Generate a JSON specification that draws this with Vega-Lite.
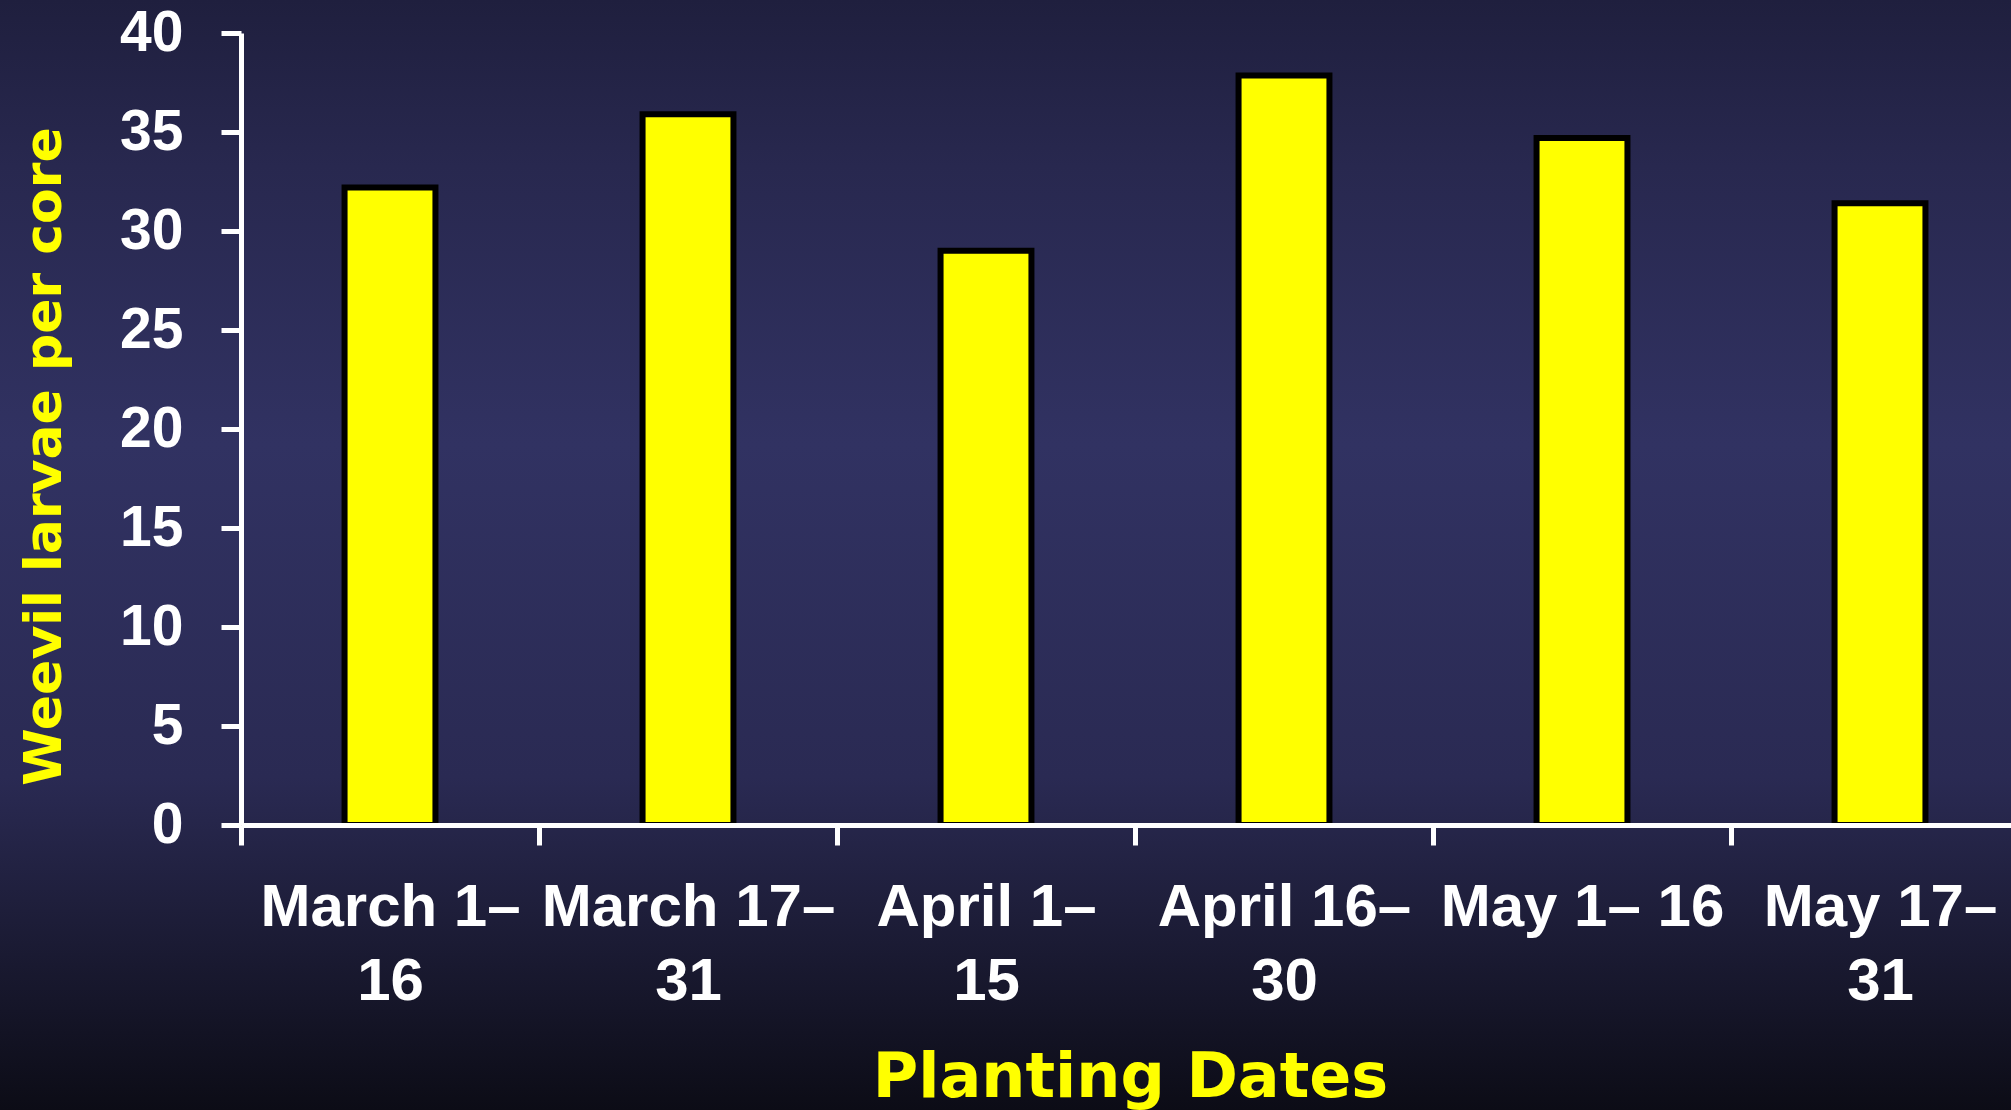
{
  "$schema": "https://vega.github.io/schema/vega-lite/v6.json",
  "width": 2011,
  "height": 1110,
  "padding": 0,
  "autosize": {"type": "none"},
  "background": "#1c1c38",
  "view": {
    "stroke": null,
    "fill": {
      "gradient": "linear",
      "x1": 0, "y1": 0, "x2": 0, "y2": 1,
      "stops": [
        {"offset": 0, "color": "#1f1f3e"},
        {"offset": 0.15, "color": "#28284f"},
        {"offset": 0.4, "color": "#313262"},
        {"offset": 0.7, "color": "#2a2a53"},
        {"offset": 0.85, "color": "#1b1b34"},
        {"offset": 1, "color": "#0c0c16"}
      ]
    }
  },
  "data": {
    "values": [
      {"date": "March 1–|16", "value": 32.2},
      {"date": "March 17–|31", "value": 35.9},
      {"date": "April 1–|15", "value": 29.0},
      {"date": "April 16–|30", "value": 37.85},
      {"date": "May 1– 16", "value": 34.7},
      {"date": "May 17–|31", "value": 31.4}
    ]
  },
  "mark": {"type": "bar", "fill": "#ffff00", "stroke": "#000000", "strokeWidth": 6, "width": {"band": 0.305}},
  "encoding": {
    "x": {
      "field": "date",
      "type": "nominal",
      "sort": null,
      "scale": {"range": [241, 2029], "paddingInner": 0, "paddingOuter": 0},
      "axis": {
        "orient": "bottom",
        "offset": -285,
        "zindex": 1,
        "domain": true,
        "domainColor": "#ffffff",
        "domainWidth": 5,
        "ticks": true,
        "tickBand": "extent",
        "tickSize": 20,
        "tickWidth": 5,
        "tickColor": "#ffffff",
        "grid": false,
        "labelAngle": 0,
        "labelExpr": "split(datum.label, '|')",
        "labelFont": "Liberation Sans",
        "labelFontWeight": "bold",
        "labelFontSize": 60,
        "labelColor": "#ffffff",
        "labelBaseline": "top",
        "labelLineHeight": 74,
        "labelPadding": 33,
        "labelLimit": 0,
        "labelOverlap": false,
        "labelBound": false,
        "title": "Planting Dates",
        "titleFont": "DejaVu Sans",
        "titleFontWeight": "bold",
        "titleFontSize": 62,
        "titleColor": "#ffff00",
        "titleX": 1130,
        "titleY": 271,
        "titleBaseline": "alphabetic",
        "titleAlign": "center"
      }
    },
    "y": {
      "field": "value",
      "type": "quantitative",
      "scale": {"domain": [0, 40], "range": [825, 33], "nice": false, "zero": true},
      "axis": {
        "orient": "left",
        "offset": -241,
        "zindex": 1,
        "values": [0, 5, 10, 15, 20, 25, 30, 35, 40],
        "domain": true,
        "domainColor": "#ffffff",
        "domainWidth": 5,
        "tickSize": 20,
        "tickWidth": 5,
        "tickColor": "#ffffff",
        "grid": false,
        "labelFont": "Liberation Sans",
        "labelFontWeight": "bold",
        "labelFontSize": 57,
        "labelColor": "#ffffff",
        "labelPadding": 38,
        "labelBaseline": "middle",
        "labelOverlap": false,
        "labelBound": false,
        "title": "Weevil larvae per core",
        "titleFont": "DejaVu Sans",
        "titleFontWeight": "bold",
        "titleFontSize": 52,
        "titleColor": "#ffff00",
        "titleAngle": 270,
        "titleX": -181,
        "titleY": 456,
        "titleBaseline": "alphabetic",
        "titleAlign": "center"
      }
    },
    "y2": {"datum": 0}
  }
}
